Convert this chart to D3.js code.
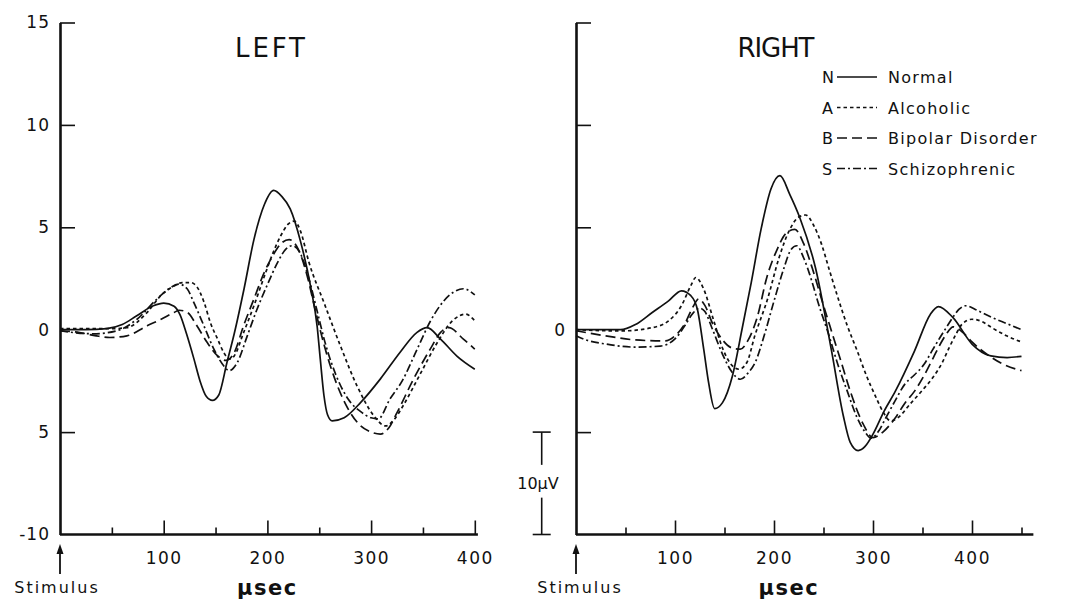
<!DOCTYPE html>
<html>
<head>
<meta charset="utf-8">
<script src="https://cdn.jsdelivr.net/npm/d3@7"></script>
<style>
  html, body { margin: 0; padding: 0; background: #fff; }
  svg { display: block; font-family: "DejaVu Sans", sans-serif; }
</style>
</head>
<body>
<svg id="chart" width="1071" height="603"></svg>
<script>
// --- Data (time in µsec, amplitude in µV) ---

const groups = ["Normal", "Alcoholic", "Bipolar Disorder", "Schizophrenic"];
const groupKeys = ["N", "A", "B", "S"];

const yTickValues = [15, 10, 5, 0, -5, -10];
const yTickLabels = ["15", "10", "5", "0", "5", "-10"];
const xMajorTicks = [100, 200, 300, 400];
const leftMinorTicks = [50, 150, 250, 350];
const rightMinorTicks = [50, 150, 250, 350, 450];

const leftNormal = [[0,0],[25,0],[45,0.05],[60,0.25],[74,0.68],[90,1.17],[100,1.3],[110,1.15],[116,0.7],[122,-0.2],[129,-1.4],[135,-2.5],[141,-3.25],[147,-3.45],[153,-3.2],[161,-1.6],[168,-0.2],[177.5,2.0],[187,4.4],[197,6.1],[206,6.8],[214,6.5],[222,5.9],[232,4.3],[241.7,2.1],[248,0.15],[251,-1.44],[254.5,-3.2],[258,-4.15],[262.5,-4.45],[274,-4.3],[290,-3.55],[309,-2.4],[328,-1.1],[344,-0.14],[354,0.1],[367,-0.46],[383,-1.3],[400,-1.93]];
const leftAlcoholic = [[0,0.05],[30,0.05],[50,0.05],[64.5,0.1],[84,0.84],[97,1.65],[110,2.14],[118,2.3],[126,2.3],[132,2.1],[139,1.33],[145,0.35],[152,-0.46],[158,-1.12],[163,-1.44],[168,-1.28],[177,-0.15],[187,1.17],[197,2.6],[205,3.7],[213,4.6],[220,5.15],[226,5.3],[232,4.8],[240,3.3],[254.5,1.33],[270.5,-0.8],[286.5,-2.75],[302.6,-4.2],[314,-4.7],[322,-4.4],[331,-3.7],[347,-2.2],[363,-0.7],[379,0.46],[391,0.76],[400,0.44]];
const leftBipolar = [[0,-0.05],[19,-0.14],[35,-0.3],[48,-0.38],[64.5,-0.3],[84,0.19],[97,0.5],[110,0.84],[115,0.95],[123,0.84],[132,0.19],[142,-0.63],[152,-1.28],[160,-1.5],[168,-1.12],[177,0.19],[187,1.5],[197,2.8],[205,3.6],[213,4.2],[221,4.4],[230,3.9],[238,2.7],[246,1.0],[255,-0.8],[265,-2.4],[275,-3.6],[288,-4.6],[300,-5.0],[309,-5.1],[317,-4.8],[325,-4.05],[341,-2.4],[357,-0.95],[367,-0.13],[375,0.1],[389,-0.46],[400,-0.95]];
const leftSchizo = [[0,-0.05],[15,-0.15],[32,-0.2],[55,-0.05],[74,0.5],[93.5,1.5],[105,2.0],[114.5,2.23],[122.6,2.0],[129,1.33],[138.7,0.2],[148.4,-0.95],[158,-1.77],[163,-2.0],[171,-1.6],[180.6,-0.3],[190,1.0],[200,2.2],[210,3.3],[218,3.95],[224,4.1],[232,3.7],[240,2.5],[248,0.9],[256,-0.7],[266,-2.2],[278,-3.4],[290,-4.0],[300,-4.3],[307,-4.35],[318,-3.4],[330,-2.5],[344,-1.0],[357,0.4],[370,1.4],[380,1.85],[389,2.0],[400,1.7]];

const rightNormal = [[0,0],[25,0],[45,0],[60,0.25],[77,0.84],[93.5,1.41],[106.5,1.9],[116,1.66],[122.6,1.0],[129,-0.95],[134,-2.6],[140,-3.85],[148,-3.56],[158,-2.26],[167.7,0.02],[177,2.3],[187,4.92],[197,6.88],[206,7.52],[216,6.6],[226,5.48],[242,3.0],[258,-1.0],[270,-4.2],[277,-5.5],[285,-5.9],[292,-5.7],[300,-5.1],[311,-4.0],[322.6,-3.0],[342,-1.03],[358,0.76],[366,1.13],[380.6,0.6],[400,-0.7],[419,-1.28],[435.5,-1.36],[450,-1.3]];
const rightAlcoholic = [[0,0],[45,-0.06],[77,0.1],[93.5,0.43],[106.5,1.17],[116,2.15],[121,2.55],[129,1.98],[138.7,0.51],[148.4,-0.95],[158,-1.77],[164.5,-1.93],[172.6,-1.6],[180.6,-0.3],[193.5,1.5],[205,3.5],[215,4.8],[225,5.5],[232,5.6],[240,5.1],[248,4.18],[256,2.9],[264.5,1.57],[274,0.2],[284,-1.03],[293,-2.2],[303,-3.3],[310,-4.0],[318,-4.45],[325,-4.3],[338,-3.6],[350,-2.95],[361,-2.3],[370,-1.6],[377,-0.87],[384,-0.2],[390,0.27],[400,0.51],[410,0.4],[420,0.1],[435,-0.3],[450,-0.6]];
const rightBipolar = [[0,-0.05],[30,-0.3],[60,-0.5],[90,-0.55],[100,-0.3],[110,0.3],[118,1.1],[124,1.5],[130,1.2],[138,0.3],[148,-0.5],[158,-0.9],[166,-0.95],[174,-0.5],[183,0.6],[193,2.6],[203,3.9],[212,4.7],[221,4.9],[230,4.2],[238.7,3.0],[248,1.5],[258,-0.06],[268,-1.6],[277,-3.0],[290,-4.6],[300,-5.27],[310,-5.0],[322.6,-4.3],[332,-3.6],[342,-3.0],[352,-2.2],[361,-1.36],[368,-0.7],[374,-0.22],[381,0.14],[390,-0.1],[400,-0.6],[415,-1.2],[430,-1.65],[450,-2.0]];
const rightSchizo = [[0,-0.3],[10,-0.5],[30,-0.7],[60,-0.85],[85,-0.8],[100,-0.45],[110,0.2],[118,0.8],[125,1.05],[130,0.9],[138,0.0],[148,-1.2],[158,-2.1],[166,-2.42],[174,-2.1],[181,-1.6],[190,-0.3],[200,1.4],[210,3.0],[217,3.9],[223,4.1],[230,3.5],[238,2.4],[245,1.25],[255,-0.2],[264.5,-1.7],[274,-3.0],[284,-4.3],[292,-5.0],[298,-5.3],[305,-5.0],[313,-4.3],[322,-3.5],[332,-2.67],[342,-2.2],[351.6,-1.69],[360,-1.0],[367.7,-0.38],[374,0.1],[380.6,0.6],[387,1.0],[393.5,1.17],[405,0.95],[420,0.6],[435,0.3],[450,0.0]];

// --- Styles ---

const DASHES = { N: null, A: "3.5,3", B: "10,5", S: "8,3,2,3" };
const INK = "#111";

// --- Layout ---

const svg = d3.select("#chart");
const y = d3.scaleLinear().domain([-10, 15]).range([534.5, 22.5]);

const panels = [
  {
    title: "LEFT", titleX: 270, titleW: 70,
    series: [leftNormal, leftAlcoholic, leftBipolar, leftSchizo],
    domain: [0, 400], range: [60, 474.8], axisEnd: 403,
    minor: leftMinorTicks, allLabels: true, unitAt: 200, stimX: 57,
  },
  {
    title: "RIGHT", titleX: 776, titleW: 77,
    series: [rightNormal, rightAlcoholic, rightBipolar, rightSchizo],
    domain: [0, 450], range: [576, 1021.5], axisEnd: 462,
    minor: rightMinorTicks, allLabels: false, unitAt: 215, stimX: 580,
  },
];

panels.forEach((p) => {
  const x = d3.scaleLinear().domain(p.domain).range(p.range);
  const g = svg.append("g");

  // y axis
  g.append("g")
    .attr("transform", `translate(${x(0)},0)`)
    .call(
      d3.axisLeft(y)
        .tickValues(yTickValues)
        .tickSizeInner(-15)
        .tickSizeOuter(0)
        .tickPadding(10)
        .tickFormat((d, i) => (p.allLabels || d === 0 ? yTickLabels[i] : ""))
    )
    .call((a) => a.select(".domain").attr("stroke", INK).attr("stroke-width", 2.6))
    .call((a) => a.selectAll(".tick line").filter((d) => d === 0 || d === -10).remove())
    .call((a) => a.selectAll(".tick line").attr("stroke", INK).attr("stroke-width", 1.6))
    .call((a) =>
      a.selectAll("text")
        .attr("font-family", "DejaVu Sans")
        .attr("font-size", 17)
        .attr("letter-spacing", 1)
        .attr("fill", INK)
    );

  // x axis line
  g.append("line")
    .attr("x1", x(0)).attr("x2", x(p.axisEnd))
    .attr("y1", y(-10)).attr("y2", y(-10))
    .attr("stroke", INK).attr("stroke-width", 2.6);

  // major ticks + labels
  g.append("g")
    .attr("transform", `translate(0,${y(-10)})`)
    .call(d3.axisBottom(x).tickValues(xMajorTicks).tickSizeInner(-14).tickSizeOuter(0).tickPadding(17))
    .call((a) => a.select(".domain").remove())
    .call((a) => a.selectAll(".tick line").attr("stroke", INK).attr("stroke-width", 1.6))
    .call((a) =>
      a.selectAll("text")
        .attr("font-family", "DejaVu Sans")
        .attr("font-size", 17)
        .attr("letter-spacing", 1.5)
        .attr("fill", INK)
    );

  // minor ticks
  g.append("g")
    .attr("transform", `translate(0,${y(-10)})`)
    .call(d3.axisBottom(x).tickValues(p.minor).tickSizeInner(-7).tickSizeOuter(0).tickFormat(""))
    .call((a) => a.select(".domain").remove())
    .call((a) => a.selectAll(".tick line").attr("stroke", INK).attr("stroke-width", 1.6));

  // curves
  const line = d3.line()
    .x((d) => x(d[0]))
    .y((d) => y(d[1]))
    .curve(d3.curveMonotoneX);

  g.append("g")
    .selectAll("path")
    .data(p.series)
    .join("path")
    .attr("d", line)
    .attr("fill", "none")
    .attr("stroke", INK)
    .attr("stroke-width", 1.7)
    .attr("stroke-dasharray", (d, i) => DASHES[groupKeys[i]]);

  // title
  g.append("text")
    .attr("x", p.titleX)
    .attr("y", 57)
    .attr("text-anchor", "middle")
    .attr("font-size", 26)
    .attr("textLength", p.titleW)
    .attr("lengthAdjust", "spacing")
    .attr("fill", INK)
    .text(p.title);

  // stimulus arrow
  g.append("line")
    .attr("x1", x(0)).attr("x2", x(0))
    .attr("y1", 552).attr("y2", 574)
    .attr("stroke", INK).attr("stroke-width", 1.8);
  g.append("path")
    .attr("d", d3.line()([[x(0) - 3.5, 554], [x(0), 544], [x(0) + 3.5, 554]]))
    .attr("fill", INK);

  g.append("text")
    .attr("x", p.stimX)
    .attr("y", 593)
    .attr("text-anchor", "middle")
    .attr("font-size", 16)
    .attr("letter-spacing", 2)
    .attr("fill", INK)
    .text("Stimulus");

  g.append("text")
    .attr("x", x(p.unitAt))
    .attr("y", 595)
    .attr("text-anchor", "middle")
    .attr("font-size", 21)
    .attr("font-weight", "bold")
    .attr("letter-spacing", 1.5)
    .attr("fill", INK)
    .text("\u03bcsec");
});

// --- Scale bar (10 µV) ---

const barX = 541.7;
const bar = svg.append("g").attr("stroke", INK).attr("stroke-width", 1.6);
bar.append("line").attr("x1", barX).attr("x2", barX).attr("y1", y(-5)).attr("y2", y(-6.6));
bar.append("line").attr("x1", barX).attr("x2", barX).attr("y1", y(-8.2)).attr("y2", y(-10));
bar.append("line").attr("x1", barX - 9).attr("x2", barX + 9).attr("y1", y(-5)).attr("y2", y(-5));
bar.append("line").attr("x1", barX - 9).attr("x2", barX + 9).attr("y1", y(-10)).attr("y2", y(-10));
svg.append("text")
  .attr("x", 538)
  .attr("y", 489)
  .attr("text-anchor", "middle")
  .attr("font-size", 16)
  .attr("fill", INK)
  .text("10\u03bcV");

// --- Legend ---

const legend = svg.append("g");
const legendRows = groups.map((name, i) => ({ name, key: groupKeys[i], row: i }));
const rowY = (i) => 77 + i * 30.5;

legend.selectAll("text.key")
  .data(legendRows)
  .join("text")
  .attr("class", "key")
  .attr("x", 822)
  .attr("y", (d) => rowY(d.row) + 6)
  .attr("font-size", 16)
  .attr("fill", INK)
  .text((d) => d.key);

legend.selectAll("line")
  .data(legendRows)
  .join("line")
  .attr("x1", 837).attr("x2", 877)
  .attr("y1", (d) => rowY(d.row)).attr("y2", (d) => rowY(d.row))
  .attr("stroke", INK)
  .attr("stroke-width", 1.7)
  .attr("stroke-dasharray", (d) => DASHES[d.key]);

legend.selectAll("text.name")
  .data(legendRows)
  .join("text")
  .attr("class", "name")
  .attr("x", 888)
  .attr("y", (d) => rowY(d.row) + 6)
  .attr("font-size", 16)
  .attr("letter-spacing", 1.3)
  .attr("fill", INK)
  .text((d) => d.name);
</script>
</body>
</html>
